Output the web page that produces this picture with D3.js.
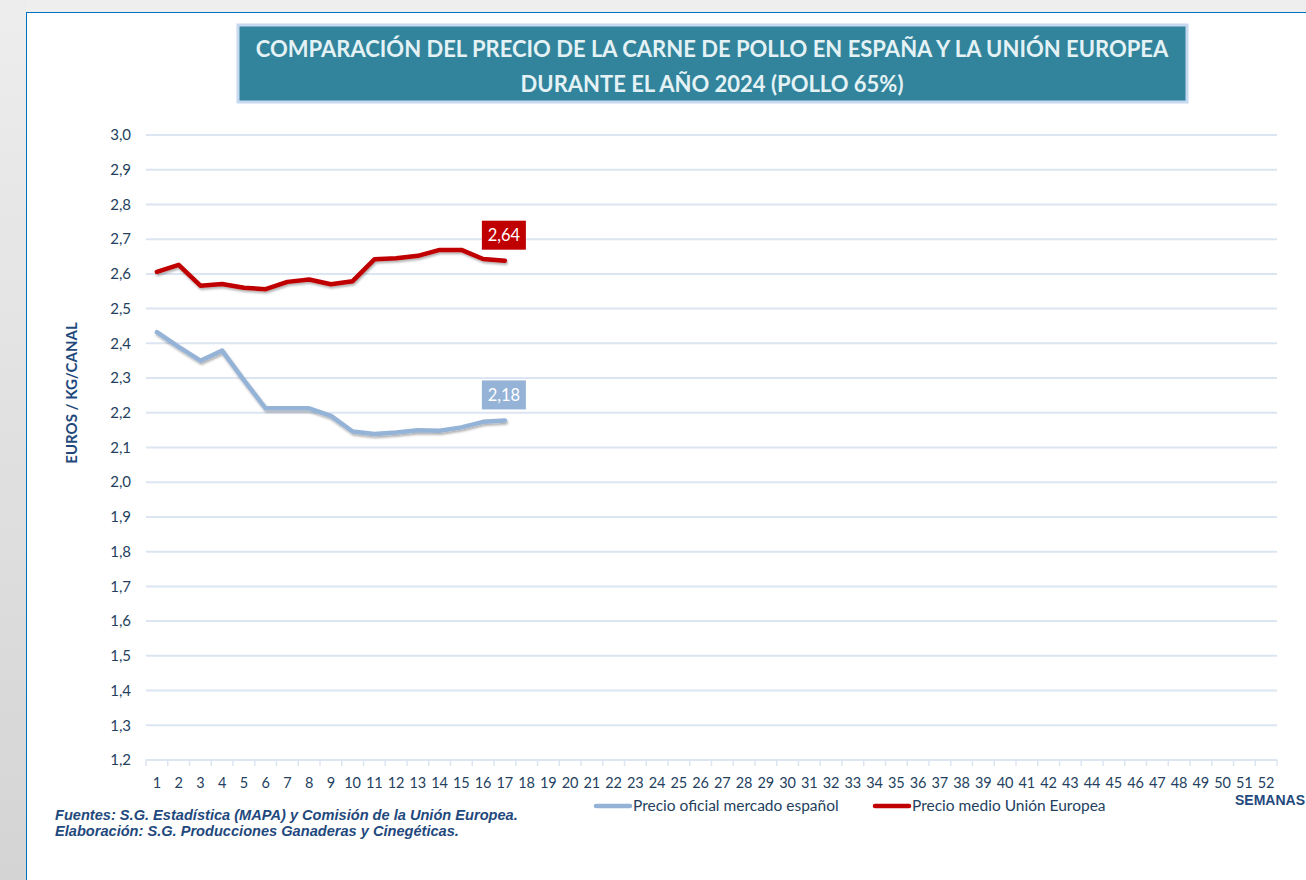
<!DOCTYPE html>
<html>
<head>
<meta charset="utf-8">
<script src="https://cdn.jsdelivr.net/npm/d3@7"></script>
<style>
  html, body { margin: 0; padding: 0; background: #eeeeee; }
  svg { display: block; }
</style>
</head>
<body>
<script>
// weeks 1..52
var semanas = d3.range(1, 53);

// Precio oficial mercado español (weeks 1-17)
var precioEspana = [2.432, 2.390, 2.350, 2.379, 2.294, 2.213, 2.213, 2.213, 2.191, 2.146,
                    2.139, 2.143, 2.150, 2.148, 2.158, 2.174, 2.178];
// Precio medio Unión Europea (weeks 1-17)
var precioUE = [2.606, 2.626, 2.566, 2.571, 2.560, 2.556, 2.577, 2.584, 2.570, 2.579,
                2.642, 2.645, 2.652, 2.669, 2.669, 2.643, 2.638];

var yTicks = d3.range(12, 31).map(function (d) { return d / 10; });

var series = [
  { name: "Precio oficial mercado español", values: precioEspana, color: "#95b3d7", label: "2,18" },
  { name: "Precio medio Unión Europea", values: precioUE, color: "#c00000", label: "2,64" }
];

var W = 1306, H = 880;
var fmt = function (v) { return d3.format(".1f")(v).replace(".", ","); };

var svg = d3.select("body").append("svg")
    .attr("width", W)
    .attr("height", H);

var defs = svg.append("defs");
var grad = defs.append("linearGradient").attr("id", "leftbg")
    .attr("x1", 0).attr("y1", 0).attr("x2", 0).attr("y2", 1);
grad.append("stop").attr("offset", "0%").attr("stop-color", "#ededed");
grad.append("stop").attr("offset", "100%").attr("stop-color", "#d4d4d4");

var shadow = defs.append("filter").attr("id", "shadow")
    .attr("x", "-5%").attr("y", "-20%").attr("width", "110%").attr("height", "140%");
shadow.append("feDropShadow")
    .attr("dx", 1).attr("dy", 2).attr("stdDeviation", 1.2)
    .attr("flood-color", "#000").attr("flood-opacity", 0.3);

// background
svg.append("rect").attr("width", W).attr("height", H).attr("fill", "#eeeeee");
svg.append("rect").attr("x", 0).attr("y", 0).attr("width", 26).attr("height", H).attr("fill", "url(#leftbg)");
svg.append("rect").attr("x", 26).attr("y", 12).attr("width", W).attr("height", H)
    .attr("fill", "#fff");
svg.append("line").attr("x1", 26).attr("x2", W).attr("y1", 12.5).attr("y2", 12.5)
    .attr("stroke", "#0070c0").attr("stroke-width", 1);
svg.append("line").attr("x1", 26.5).attr("x2", 26.5).attr("y1", 12).attr("y2", H)
    .attr("stroke", "#0070c0").attr("stroke-width", 1);

// title box
svg.append("rect")
    .attr("x", 238).attr("y", 25).attr("width", 949).attr("height", 77)
    .attr("fill", "#31849b").attr("stroke", "#c6d9f1").attr("stroke-width", 3);
var title = svg.append("text")
    .attr("text-anchor", "middle")
    .attr("font-family", "Lato, 'Open Sans', sans-serif")
    .attr("font-weight", "bold")
    .attr("font-size", 22)
    .attr("fill", "#e4f2f6");
title.append("tspan").attr("x", 712).attr("y", 57)
    .text("COMPARACIÓN DEL PRECIO DE LA CARNE DE POLLO EN ESPAÑA Y LA UNIÓN EUROPEA");
title.append("tspan").attr("x", 712).attr("y", 92)
    .text("DURANTE EL AÑO 2024 (POLLO 65%)");

// scales
var x = d3.scaleBand().domain(semanas).range([146, 1277]).padding(0);
var y = d3.scaleLinear().domain([1.2, 3.0]).range([760, 135]);

var tickFont = "Lato, 'Open Sans', sans-serif";
var navy = "#243f60";

// gridlines
svg.append("g").selectAll("line")
    .data(yTicks)
    .enter().append("line")
    .attr("x1", 146).attr("x2", 1277)
    .attr("y1", function (d) { return y(d); })
    .attr("y2", function (d) { return y(d); })
    .attr("stroke", "#dce6f2")
    .attr("stroke-width", 2);

// y labels
svg.append("g").selectAll("text")
    .data(yTicks)
    .enter().append("text")
    .attr("x", 131)
    .attr("y", function (d) { return y(d); })
    .attr("dy", "0.35em")
    .attr("text-anchor", "end")
    .attr("font-family", tickFont)
    .attr("font-size", 15)
    .attr("fill", navy)
    .text(fmt);

// x axis ticks
var bounds = semanas.map(function (d) { return x(d); }).concat([x.range()[1]]);
svg.append("g").selectAll("line")
    .data(bounds)
    .enter().append("line")
    .attr("x1", function (d) { return d; })
    .attr("x2", function (d) { return d; })
    .attr("y1", 760).attr("y2", 766)
    .attr("stroke", "#dce6f2")
    .attr("stroke-width", 1.5);

svg.append("g").selectAll("text")
    .data(semanas)
    .enter().append("text")
    .attr("x", function (d) { return x(d) + x.bandwidth() / 2; })
    .attr("y", 788)
    .attr("text-anchor", "middle")
    .attr("font-family", tickFont)
    .attr("font-size", 14.5)
    .attr("fill", navy)
    .text(function (d) { return d; });

// axis titles
svg.append("text")
    .attr("transform", "translate(77,393) rotate(-90)")
    .attr("text-anchor", "middle")
    .attr("font-family", tickFont)
    .attr("font-weight", "bold")
    .attr("font-size", 15)
    .attr("fill", "#1f497d")
    .text("EUROS / KG/CANAL");

svg.append("text")
    .attr("x", 1305).attr("y", 805)
    .attr("text-anchor", "end")
    .attr("font-family", "'Liberation Sans', Arial, sans-serif")
    .attr("font-weight", "bold")
    .attr("font-size", 14)
    .attr("fill", "#1f497d")
    .text("SEMANAS");

// lines
var line = d3.line()
    .x(function (d, i) { return x(semanas[i]) + x.bandwidth() / 2; })
    .y(function (d) { return y(d); });

svg.append("g").selectAll("path")
    .data(series)
    .enter().append("path")
    .attr("d", function (s) { return line(s.values); })
    .attr("fill", "none")
    .attr("stroke", function (s) { return s.color; })
    .attr("stroke-width", 4.5)
    .attr("stroke-linejoin", "round")
    .attr("stroke-linecap", "round")
    .attr("filter", "url(#shadow)");

// end labels
series.forEach(function (s) {
  var n = s.values.length - 1;
  var cx = x(semanas[n]) + x.bandwidth() / 2;
  var cy = y(s.values[n]);
  var g = svg.append("g").attr("transform", "translate(" + (cx - 23) + "," + (cy - 40) + ")");
  g.append("rect").attr("width", 44).attr("height", 29).attr("fill", s.color);
  g.append("text")
      .attr("x", 22).attr("y", 15).attr("dy", "0.35em")
      .attr("text-anchor", "middle")
      .attr("font-family", tickFont)
      .attr("font-size", 16.5)
      .attr("fill", "#fff")
      .text(s.label);
});

// legend
var legendX = [594, 873];
var legend = svg.append("g").selectAll("g")
    .data(series)
    .enter().append("g")
    .attr("transform", function (s, i) { return "translate(" + legendX[i] + ",806)"; });
legend.append("line")
    .attr("x1", 2).attr("x2", 36)
    .attr("stroke", function (s) { return s.color; })
    .attr("stroke-width", 4.5)
    .attr("stroke-linecap", "round");
legend.append("text")
    .attr("x", 39).attr("dy", "0.35em")
    .attr("font-family", tickFont)
    .attr("font-size", 15.5)
    .attr("fill", navy)
    .text(function (s) { return s.name; });

// footer
var foot = svg.append("text")
    .attr("font-family", "'Liberation Sans', Arial, sans-serif")
    .attr("font-weight", "bold")
    .attr("font-style", "italic")
    .attr("font-size", 14.6)
    .attr("fill", "#1f497d");
foot.append("tspan").attr("x", 55).attr("y", 820)
    .text("Fuentes: S.G. Estadística (MAPA) y Comisión de la Unión Europea.");
foot.append("tspan").attr("x", 55).attr("y", 836)
    .text("Elaboración: S.G. Producciones Ganaderas y Cinegéticas.");
</script>
</body>
</html>
